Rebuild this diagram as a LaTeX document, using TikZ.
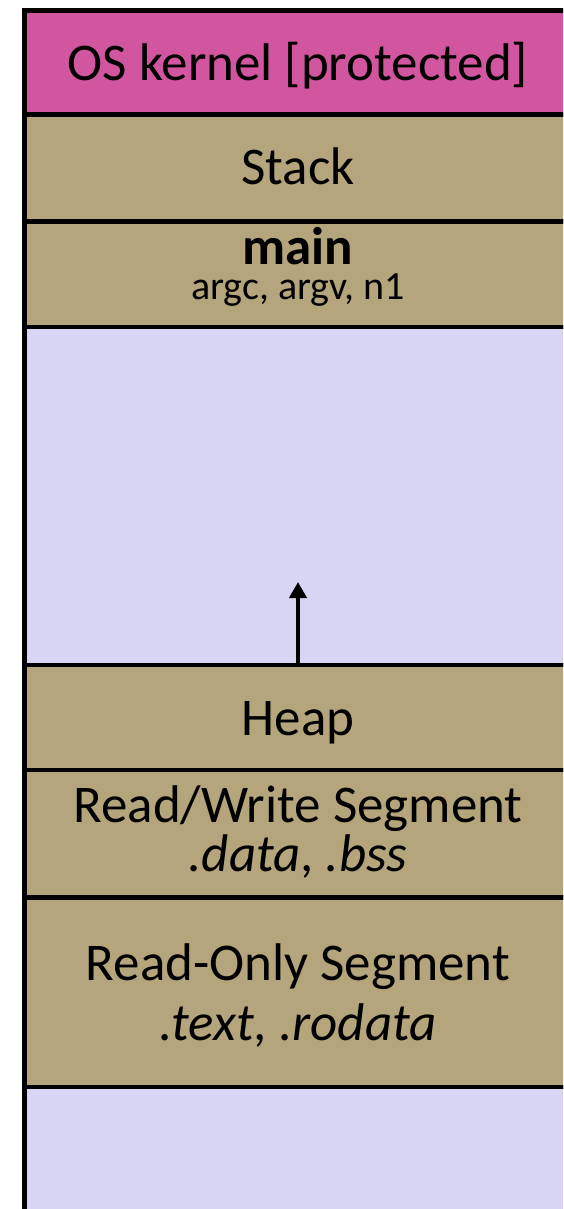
\documentclass[tikz,border=0pt]{standalone}
\usepackage{fontspec}
\setmainfont{Carlito}
\usetikzlibrary{arrows.meta}
\definecolor{kernelpink}{RGB}{210,85,160}
\definecolor{segtan}{RGB}{181,165,124}
\definecolor{freeblue}{RGB}{214,214,244}
\tikzset{
  seg/.style={draw, line width=4.5pt, minimum width=547pt, inner sep=0pt},
  lbl/.style={anchor=base, inner sep=0pt, font=\fontsize{53}{60}\selectfont},
  small/.style={anchor=base, inner sep=0pt, font=\fontsize{40}{44}\selectfont}
}

\begin{document}
\begin{tikzpicture}[x=1pt, y=-1pt]
\useasboundingbox (0, 0) rectangle (563, 1209);
\clip (0, 0) rectangle (563, 1209);
% segments, top to bottom
\node [seg, fill=freeblue, minimum height=200pt] (bottom) at (298, 1187) {};
\node [seg, fill=freeblue, minimum height=338pt] (gap) at (298, 496) {};
\node [seg, fill=kernelpink, minimum height=104.5pt] (kernel) at (298, 62.75) {};
\node [seg, fill=segtan, minimum height=106.5pt] (stack) at (298, 168) {};
\node [seg, fill=segtan, minimum height=105.5pt] (main) at (298, 274) {};
\node [seg, fill=segtan, minimum height=105pt] (heap) at (298, 717.5) {};
\node [seg, fill=segtan, minimum height=127.5pt] (rw) at (298, 833.75) {};
\node [seg, fill=segtan, minimum height=189.5pt] (ro) at (298, 992) {};
% labels
\node [lbl] (kernelname) at (298, 81) {OS kernel [protected]};
\node [lbl] (stackname) at (298, 185) {Stack};
\node [lbl, font=\fontsize{53}{60}\selectfont\bfseries] (mainname) at (298, 264) {main};
\node [small] (mainargs) at (298, 299) {argc, argv, n1};
\node [lbl] (heapname) at (298, 735) {Heap};
\node [lbl] (rwname) at (298, 822) {Read/Write Segment};
\node [lbl] (rwsec) at (298, 871) {\itshape .data\upshape, \itshape .bss};
\node [lbl] (roname) at (298, 980) {Read-Only Segment};
\node [lbl] (rosec) at (298, 1040) {\itshape .text\upshape, \itshape .rodata};
\coordinate (grow) at (298, 582);
\draw [line width=4.5pt, -{Triangle[width=17pt, length=16pt]}] (heap.north) -- (grow);
\end{tikzpicture}
\end{document}
